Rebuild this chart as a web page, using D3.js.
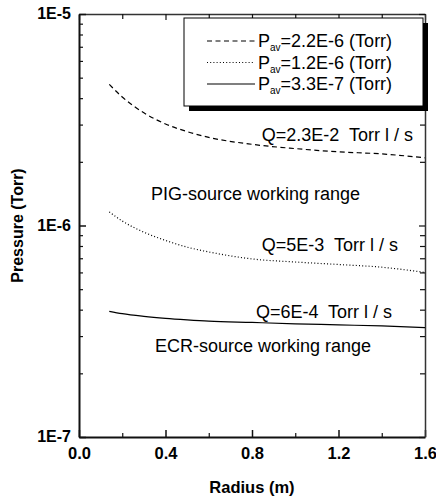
<!DOCTYPE html>
<html>
<head>
<meta charset="utf-8">
<script src="https://cdn.jsdelivr.net/npm/d3@7"></script>
<style>
  html, body { margin: 0; padding: 0; background: #fff; }
  svg { display: block; }
  text { font-family: Arial, "Liberation Sans", Helvetica, sans-serif; white-space: pre; }
</style>
</head>
<body>
<svg id="chart" width="436" height="501"></svg>
<script>
// ---- data ----
const radius = [0.14, 0.2, 0.3, 0.4, 0.5, 0.6, 0.8, 1.0, 1.2, 1.4, 1.6];
const pressureHigh = [4.65e-6, 4.05e-6, 3.41e-6, 3.02e-6, 2.78e-6, 2.61e-6, 2.42e-6, 2.31e-6, 2.23e-6, 2.18e-6, 2.09e-6];
const pressureMid  = [1.16e-6, 1.05e-6, 0.93e-6, 0.85e-6, 0.79e-6, 0.75e-6, 0.695e-6, 0.672e-6, 0.654e-6, 0.635e-6, 0.60e-6];
const pressureLow  = [0.393e-6, 0.383e-6, 0.372e-6, 0.364e-6, 0.358e-6, 0.353e-6, 0.348e-6, 0.343e-6, 0.339e-6, 0.335e-6, 0.329e-6];
const seriesNames = ["2.2E-6 (Torr)", "1.2E-6 (Torr)", "3.3E-7 (Torr)"];
const xTickValues = [0.0, 0.4, 0.8, 1.2, 1.6];
const xTickLabels = ["0.0", "0.4", "0.8", "1.2", "1.6"];
const yTickValues = [1e-7, 1e-6, 1e-5];
const yTickLabels = ["1E-7", "1E-6", "1E-5"];
const flowLabels = ["Q=2.3E-2  Torr l / s", "Q=5E-3  Torr l / s", "Q=6E-4  Torr l / s"];
const rangeLabels = ["PIG-source working range", "ECR-source working range"];

// ---- layout ----
const L = 79, R = 425, T = 14, B = 437;
const svg = d3.select("#chart");
const x = d3.scaleLinear().domain([0, 1.6]).range([L, R]);
const y = d3.scaleLog().domain([1e-7, 1e-5]).range([B, T]);

// minor ticks
const xMinor = d3.range(0, 1.6001, 0.2).filter(v => Math.abs((v / 0.4) - Math.round(v / 0.4)) > 1e-6);
const yMinor = [];
[1e-7, 1e-6].forEach(d => { for (let k = 2; k <= 9; k++) yMinor.push(k * d); });

const axisColor = "#111";
const g = svg.append("g");

// bottom axis with inward ticks
const bottom = d3.axisBottom(x).tickValues(xTickValues).tickSize(-7).tickFormat((d, i) => xTickLabels[i]).tickSizeOuter(0);
const ga = g.append("g").attr("transform", `translate(0,${B})`).call(bottom);
ga.select(".domain").attr("stroke", axisColor).attr("stroke-width", 2);
ga.selectAll(".tick line").attr("stroke", axisColor).attr("stroke-width", 1.5);
ga.selectAll(".tick text").attr("font-size", 16.5).attr("font-weight", "bold").attr("fill", "#000").attr("y", 10).attr("dy", "0.71em");
g.append("g").attr("transform", `translate(0,${B})`)
  .call(d3.axisBottom(x).tickValues(xMinor).tickSize(-4).tickFormat(""))
  .call(s => { s.select(".domain").remove(); s.selectAll("line").attr("stroke", axisColor).attr("stroke-width", 1.2); });

// top axis
g.append("g").attr("transform", `translate(0,${T})`)
  .call(d3.axisTop(x).tickValues(xTickValues).tickSize(-6).tickFormat("").tickSizeOuter(0))
  .call(s => { s.select(".domain").attr("stroke", "#333").attr("stroke-width", 1.5); s.selectAll("line").attr("stroke", axisColor).attr("stroke-width", 1.2); });
g.append("g").attr("transform", `translate(0,${T})`)
  .call(d3.axisTop(x).tickValues(xMinor).tickSize(-5).tickFormat(""))
  .call(s => { s.select(".domain").remove(); s.selectAll("line").attr("stroke", axisColor).attr("stroke-width", 1.2); });

// left axis
const left = d3.axisLeft(y).tickValues(yTickValues).tickSize(-7).tickFormat((d, i) => yTickLabels[i]).tickSizeOuter(0);
const gl = g.append("g").attr("transform", `translate(${L},0)`).call(left);
gl.select(".domain").attr("stroke", axisColor).attr("stroke-width", 2);
gl.selectAll(".tick line").attr("stroke", axisColor).attr("stroke-width", 1.5);
gl.selectAll(".tick text").attr("font-size", 16).attr("font-weight", "bold").attr("fill", "#000").attr("x", -8).attr("dy", "0.3em");
g.append("g").attr("transform", `translate(${L},0)`)
  .call(d3.axisLeft(y).tickValues(yMinor).tickSize(-4).tickFormat(""))
  .call(s => { s.select(".domain").remove(); s.selectAll("line").attr("stroke", axisColor).attr("stroke-width", 1.2); });

// right axis
g.append("g").attr("transform", `translate(${R},0)`)
  .call(d3.axisRight(y).tickValues(yTickValues).tickSize(-6).tickFormat("").tickSizeOuter(0))
  .call(s => { s.select(".domain").attr("stroke", "#333").attr("stroke-width", 1.5); s.selectAll("line").attr("stroke", axisColor).attr("stroke-width", 1.2); });
g.append("g").attr("transform", `translate(${R},0)`)
  .call(d3.axisRight(y).tickValues(yMinor).tickSize(-5).tickFormat(""))
  .call(s => { s.select(".domain").remove(); s.selectAll("line").attr("stroke", axisColor).attr("stroke-width", 1.2); });

// axis titles
svg.append("text").attr("x", (L + R) / 2).attr("y", 493).attr("text-anchor", "middle")
  .attr("font-size", 16.5).attr("font-weight", "bold").text("Radius (m)");
svg.append("text").attr("transform", `translate(23,${(T + B) / 2}) rotate(-90)`).attr("text-anchor", "middle")
  .attr("font-size", 16).attr("font-weight", "bold").text("Pressure (Torr)");

// curves
const styles = [
  { data: pressureHigh, dash: "5,3.5" },
  { data: pressureMid, dash: "1,2.2" },
  { data: pressureLow, dash: null }
];
const line = d3.line().x(d => x(d[0])).y(d => y(d[1])).curve(d3.curveMonotoneX);
styles.forEach(s => {
  const p = svg.append("path").datum(radius.map((r, i) => [r, s.data[i]]))
    .attr("d", line).attr("fill", "none").attr("stroke", "#000").attr("stroke-width", 1.2);
  if (s.dash) p.attr("stroke-dasharray", s.dash);
});

// annotations
const annFont = 18;
[[0.845, 2.52e-6], [0.845, 0.754e-6], [0.818, 0.366e-6]].forEach((pos, i) => {
  svg.append("text").attr("x", x(pos[0])).attr("y", y(pos[1])).attr("font-size", annFont).attr("fill", "#000").text(flowLabels[i]);
});
[[0.333, 1.323e-6], [0.351, 0.252e-6]].forEach((pos, i) => {
  svg.append("text").attr("x", x(pos[0])).attr("y", y(pos[1])).attr("font-size", annFont).attr("fill", "#000").text(rangeLabels[i]);
});

// legend
const lg = svg.append("g");
const bx = 184, by = 18, bw = 239, bh = 88;
lg.append("rect").attr("x", bx + 5).attr("y", by + 5).attr("width", bw).attr("height", bh).attr("fill", "#000");
lg.append("rect").attr("x", bx).attr("y", by).attr("width", bw).attr("height", bh).attr("fill", "#fff").attr("stroke", "#000").attr("stroke-width", 1);
styles.forEach((s, i) => {
  const yy = 41 + i * 21.5;
  const ln = lg.append("line").attr("x1", 207).attr("x2", 255).attr("y1", yy).attr("y2", yy)
    .attr("stroke", "#000").attr("stroke-width", 1.2);
  if (s.dash) ln.attr("stroke-dasharray", s.dash);
  const t = lg.append("text").attr("x", 258).attr("y", yy + 6).attr("font-size", 18).attr("fill", "#000");
  t.append("tspan").text("P");
  t.append("tspan").attr("font-size", 10).attr("dy", 4).text("av");
  t.append("tspan").attr("dy", -4).text("=" + seriesNames[i]);
});
</script>
</body>
</html>
